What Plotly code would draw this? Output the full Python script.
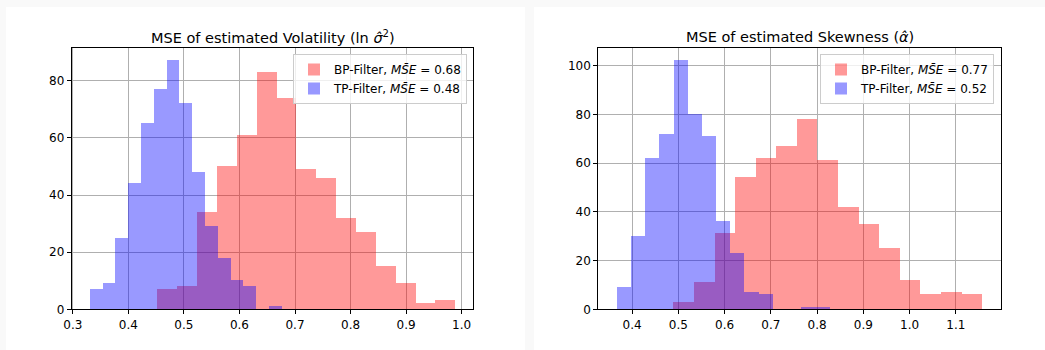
import numpy as np
import plotly.graph_objects as go

# ---- data ----
vol_bp_counts = [7, 8, 34, 50, 61, 83, 74, 49, 46, 32, 27, 15, 9, 2, 3]
vol_bp_range = [0.4517, 0.988]
vol_tp_counts = [7, 9, 25, 44, 65, 77, 87, 72, 48, 29, 18, 10, 8, 0, 1]
vol_tp_range = [0.330, 0.6755]

skew_bp_counts = [3, 11, 31, 54, 62, 67, 78, 61, 42, 35, 25, 12, 6, 7, 6]
skew_bp_range = [0.490, 1.1576]
skew_tp_counts = [9, 30, 62, 72, 102, 80, 71, 36, 23, 7, 6, 0, 0, 1, 1]
skew_tp_range = [0.3676, 0.8277]

vol_bp_label = "BP-Filter, <i>MS\u0304E</i> = 0.68"
vol_tp_label = "TP-Filter, <i>MS\u0304E</i> = 0.48"
skew_bp_label = "BP-Filter, <i>MS\u0304E</i> = 0.77"
skew_tp_label = "TP-Filter, <i>MS\u0304E</i> = 0.52"

vol_title = "MSE of estimated Volatility (ln <i>σ̂</i><sup>2</sup>)"
skew_title = "MSE of estimated Skewness (<i>α̂</i>)"

vol_xticks = [0.3, 0.4, 0.5, 0.6, 0.7, 0.8, 0.9, 1.0]
vol_yticks = [0, 20, 40, 60, 80]
skew_xticks = [0.4, 0.5, 0.6, 0.7, 0.8, 0.9, 1.0, 1.1]
skew_yticks = [0, 20, 40, 60, 80, 100]


def hist_bars(counts, rng):
    edges = np.linspace(rng[0], rng[1], len(counts) + 1)
    centers = (edges[:-1] + edges[1:]) / 2
    width = edges[1] - edges[0]
    return centers, [width] * len(counts)


W, H = 1045, 350
FONT = "DejaVu Sans"
fig = go.Figure()

panels = [
    (vol_bp_counts, vol_bp_range, vol_tp_counts, vol_tp_range, vol_bp_label, vol_tp_label, "x", "y", "legend"),
    (skew_bp_counts, skew_bp_range, skew_tp_counts, skew_tp_range, skew_bp_label, skew_tp_label, "x2", "y2", "legend2"),
]
for bp, bpr, tp, tpr, bpl, tpl, xa, ya, lg in panels:
    cx, wd = hist_bars(bp, bpr)
    fig.add_trace(go.Bar(x=cx, y=bp, width=wd, name=bpl, marker=dict(color="red", line=dict(width=0)),
                         opacity=0.4, xaxis=xa, yaxis=ya, legend=lg))
    cx, wd = hist_bars(tp, tpr)
    fig.add_trace(go.Bar(x=cx, y=tp, width=wd, name=tpl, marker=dict(color="blue", line=dict(width=0)),
                         opacity=0.4, xaxis=xa, yaxis=ya, legend=lg))

ax_common = dict(showline=True, linecolor="black", linewidth=1, mirror=True, ticks="outside",
                 ticklen=4, tickcolor="black", showgrid=True, gridcolor="#b0b0b0", gridwidth=0.8,
                 zeroline=False, layer="above traces", automargin=False,
                 tickfont=dict(family=FONT, size=12, color="black"))

ydom = [1 - 309.3 / H, 1 - 48.3 / H]
fig.update_layout(
    width=W, height=H, margin=dict(l=0, r=0, t=0, b=0, pad=0), autosize=False,
    paper_bgcolor="#f9f9f9", plot_bgcolor="white", barmode="overlay", bargap=0,
    font=dict(family=FONT, size=12, color="black"),
    xaxis=dict(domain=[71.7 / W, 473.3 / W], range=[0.298, 1.021], tickvals=vol_xticks,
               ticktext=[f"{v:.1f}" for v in vol_xticks], anchor="y", **ax_common),
    yaxis=dict(domain=ydom, range=[0, 91.35], tickvals=vol_yticks, anchor="x", **ax_common),
    xaxis2=dict(domain=[598.3 / W, 1000.7 / W], range=[0.327, 1.197], tickvals=skew_xticks,
                ticktext=[f"{v:.1f}" for v in skew_xticks], anchor="y2", **ax_common),
    yaxis2=dict(domain=ydom, range=[0, 107.1], tickvals=skew_yticks, anchor="x2", **ax_common),
    legend=dict(x=467 / W, y=1 - 54 / H, xanchor="right", yanchor="top", bgcolor="rgba(255,255,255,0.8)",
                bordercolor="#cccccc", borderwidth=1, font=dict(family=FONT, size=12), tracegroupgap=0),
    legend2=dict(x=994 / W, y=1 - 54 / H, xanchor="right", yanchor="top", bgcolor="rgba(255,255,255,0.8)",
                 bordercolor="#cccccc", borderwidth=1, font=dict(family=FONT, size=12), tracegroupgap=0),
    shapes=[
        dict(type="rect", xref="paper", yref="paper", x0=6 / W, x1=525 / W, y0=0, y1=1 - 7 / H,
             fillcolor="white", line=dict(width=0), layer="below"),
        dict(type="rect", xref="paper", yref="paper", x0=534 / W, x1=1, y0=0, y1=1 - 7 / H,
             fillcolor="white", line=dict(width=0), layer="below"),
    ],
    annotations=[
        dict(text=vol_title, xref="paper", yref="paper", x=(71.7 + 473.3) / 2 / W, y=1 - 37 / H,
             showarrow=False, xanchor="center", yanchor="middle", font=dict(family=FONT, size=14.5)),
        dict(text=skew_title, xref="paper", yref="paper", x=(598.3 + 1000.7) / 2 / W, y=1 - 37 / H,
             showarrow=False, xanchor="center", yanchor="middle", font=dict(family=FONT, size=14.5)),
    ],
)

fig.write_html("out.html", config={"displayModeBar": False},
               post_script="document.body.style.margin='0';document.body.style.padding='0';")
